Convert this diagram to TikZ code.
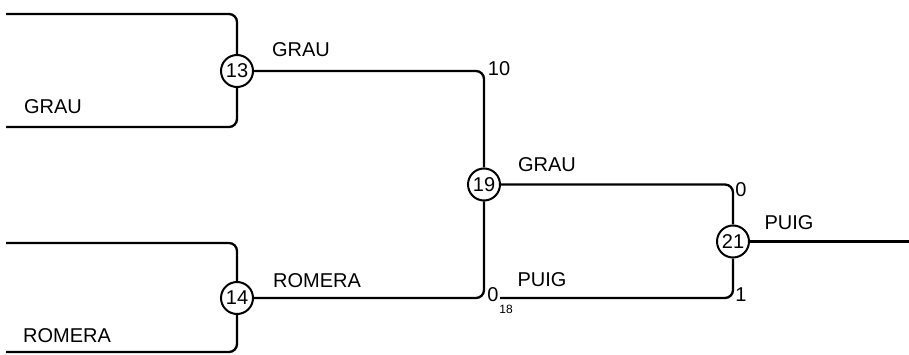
\documentclass[tikz,border=0pt]{standalone}
\usepackage{fontspec}
\setmainfont{Liberation Sans}
\begin{document}
\begin{tikzpicture}[x=1pt,y=-1pt,
  wire/.style={line width=2.3pt, rounded corners=8pt},
  match/.style={circle, draw, line width=2pt, fill=white, minimum size=32pt, inner sep=0pt, font=\fontsize{20}{22}\selectfont},
  lbl/.style={inner sep=0pt, font=\fontsize{20}{22}\selectfont},
  small/.style={inner sep=0pt, font=\fontsize{12}{14}\selectfont}]
\useasboundingbox (0,0) rectangle (909,355);
% match nodes
\node[match] (m13) at (237,71) {13};
\node[match] (m14) at (237,298) {14};
\node[match] (m19) at (484,184.5) {19};
\node[match] (m21) at (733,241.5) {21};
% free ends
\coordinate (a1) at (6,14);
\coordinate (a2) at (6,127);
\coordinate (b1) at (6,243);
\coordinate (b2) at (6,352);
\coordinate (p18) at (500,298);
\coordinate (out) at (909,241.5);
% connectors
\draw[wire] (a1) -| (m13.north);
\draw[wire] (a2) -| (m13.south);
\draw[wire] (b1) -| (m14.north);
\draw[wire] (b2) -| (m14.south);
\draw[wire] (m13.east) -| (m19.north);
\draw[wire] (m14.east) -| (m19.south);
\draw[wire] (m19.east) -| (m21.north);
\draw[wire] (p18) -| (m21.south);
\draw[wire] (m21.east) -- (out);
% labels
\node[lbl] (l1) at (53,107) {GRAU};
\node[lbl] (l2) at (67,336) {ROMERA};
\node[lbl] (l3) at (301,50) {GRAU};
\node[lbl] (l4) at (317,281) {ROMERA};
\node[lbl] (l5) at (547,165) {GRAU};
\node[lbl] (l6) at (542,280) {PUIG};
\node[lbl] (l7) at (789,223) {PUIG};
\node[lbl] (s10) at (499,69) {10};
\node[lbl] (s0a) at (493,295) {0};
\node[small] (s18) at (506,309) {18};
\node[lbl] (s0b) at (741,190) {0};
\node[lbl] (s1) at (741,295) {1};
\end{tikzpicture}
\end{document}
